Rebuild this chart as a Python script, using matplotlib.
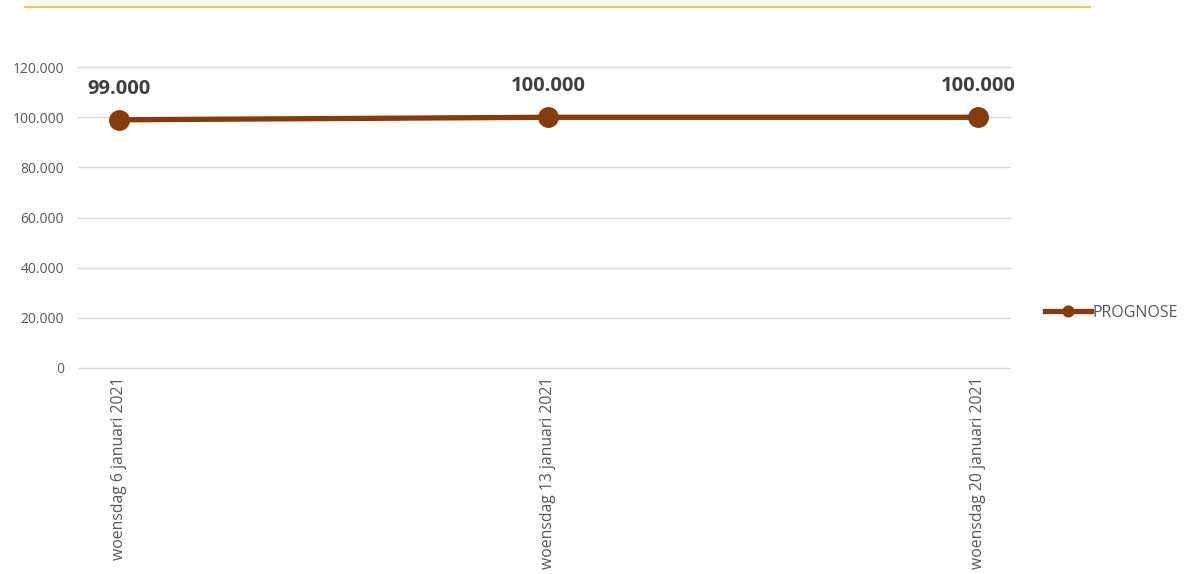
import matplotlib.pyplot as plt
from matplotlib.lines import Line2D

# data
dates = ["woensdag 6 januari 2021", "woensdag 13 januari 2021", "woensdag 20 januari 2021"]
prognose = [99000, 100000, 100000]
y_ticks = [0, 20000, 40000, 60000, 80000, 100000, 120000]

brown = "#843c0c"
grey_text = "#595959"

plt.rcParams['font.family'] = ['Open Sans', 'DejaVu Sans']

fig = plt.figure(figsize=(11.87, 5.74), dpi=100)
ax = fig.add_axes([0.0657, 0.359, 0.785, 0.524])

x = list(range(len(dates)))
ax.plot(x, prognose, color=brown, linewidth=3.8, marker="o", markersize=14,
        label="PROGNOSE", zorder=3)

for xi, v in zip(x, prognose):
    ax.annotate(f"{v:,}".replace(",", "."), (xi, v), xytext=(0, 15),
                textcoords="offset points", ha="center", va="bottom",
                fontsize=14.5, fontweight="bold", color="#404040")

ax.set_ylim(0, 120000)
ax.set_xlim(-0.0955, 2.0745)
ax.set_yticks(y_ticks)
ax.set_yticklabels([f"{t:,}".replace(",", ".") for t in y_ticks])
ax.set_xticks(x)
ax.set_xticklabels(dates, rotation=90, va="top", ha="center")
ax.tick_params(axis="both", length=0, colors=grey_text, labelsize=10)
ax.tick_params(axis="x", labelsize=11.3, pad=6)
ax.tick_params(axis="y", pad=10)
ax.grid(axis="y", color="#d9d9d9", linewidth=1)
for gl in ax.get_ygridlines():
    gl.set_clip_on(False)
ax.set_axisbelow(True)
for s in ax.spines.values():
    s.set_visible(False)

leg = fig.legend(loc="center left", bbox_to_anchor=(0.868, 0.455), frameon=False,
                 fontsize=11.5, handlelength=2.9, handletextpad=0.1, markerscale=0.55)
for t in leg.get_texts():
    t.set_color(grey_text)

# yellow rule at top
fig.add_artist(Line2D([0.021, 0.918], [0.988, 0.988], color="#f2c94c", linewidth=1.5,
                      transform=fig.transFigure))

fig.savefig("out.png", dpi=100)
